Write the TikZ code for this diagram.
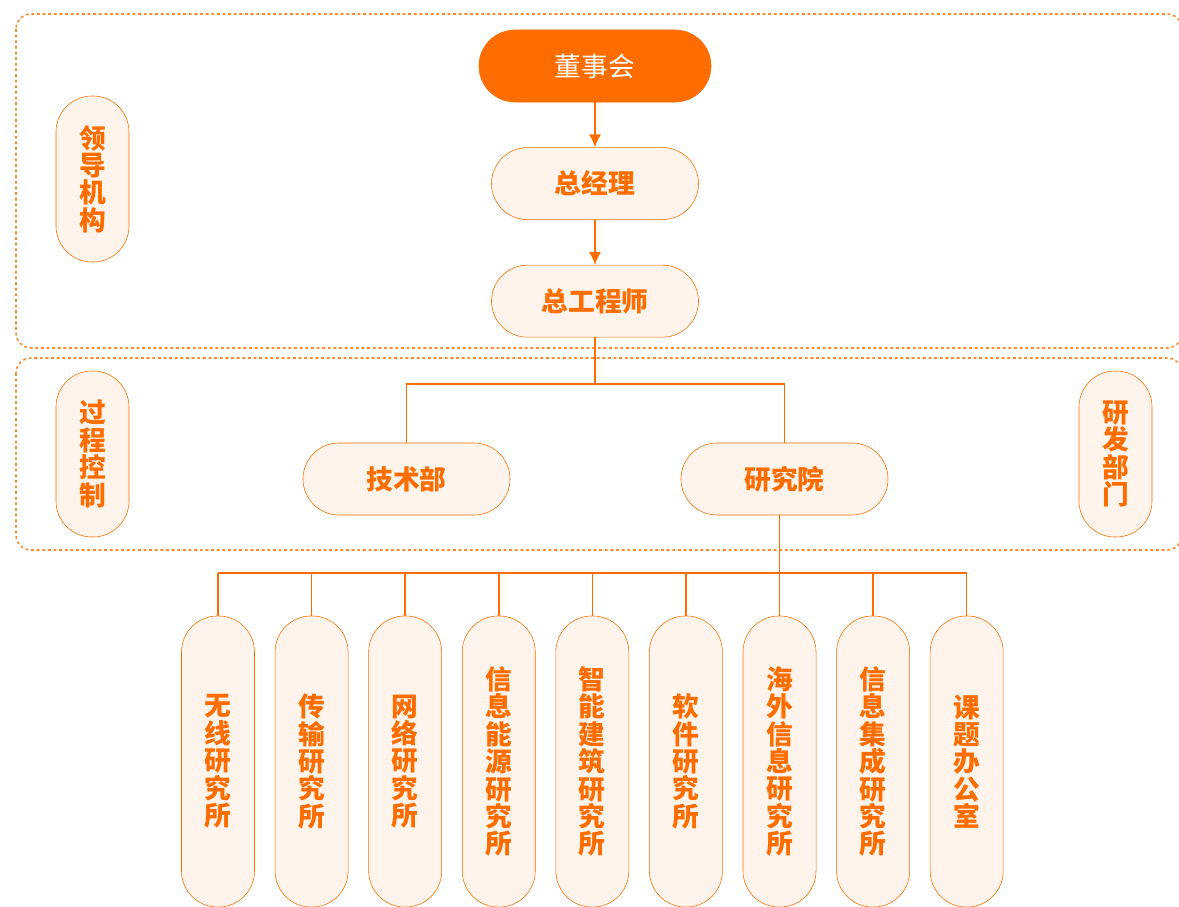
\documentclass[tikz,border=0pt]{standalone}
\usepackage{fontspec}
\setmainfont{Noto Sans CJK SC}
\definecolor{OrgOrange}{HTML}{FF6D00}
\definecolor{OrgFill}{HTML}{FEF4EC}
\definecolor{OrgDash}{HTML}{FF8A2E}
\usetikzlibrary{arrows.meta,positioning}

\begin{document}
\begin{tikzpicture}[x=0.025cm, y=-0.025cm, node distance=1.125cm, >={Latex[length=0.32cm,width=0.3cm]},
    pill/.style={draw=OrgOrange, fill=OrgFill, rectangle, rounded corners=0.9cm, align=center, text=OrgOrange, font=\fontsize{19pt}{19.5pt}\selectfont\bfseries, minimum width=5.175cm, minimum height=1.8cm, inner sep=0pt},
    vpill/.style={pill, minimum width=1.825cm, minimum height=4.15cm},
    unit/.style={pill, minimum width=1.825cm, minimum height=7.275cm},
    group/.style={draw=OrgDash, line width=1.1pt, dash pattern=on 2pt off 2pt, rounded corners=0.375cm},
    link/.style={draw=OrgOrange, line width=1.1pt}]
        \useasboundingbox (0,0) rectangle (1179,907);

        % Dashed groups
        \draw [group] (16,14) rectangle (1182,348);
        \draw [group] (16,358) rectangle (1182,550);

        % Leadership chain
        \node [pill, fill=OrgOrange, text=white, font=\fontsize{19pt}{19.5pt}\selectfont, minimum width=5.8cm] (board) at (595,66) {董事会};
        \node [pill, below=of board] (gm) {总经理};
        \node [pill, below=of gm] (chiefeng) {总工程师};
        \node [pill] (techdept) at (406.5,479) {技术部};
        \node [pill] (institute) at (784.5,479) {研究院};

        % Side labels
        \node [vpill] (leadlbl) at (92.5,179) {领\\导\\机\\构};
        \node [vpill] (proclbl) at (92.5,454) {过\\程\\控\\制};
        \node [vpill] (rdlbl) at (1115.5,454) {研\\发\\部\\门};

        % Research units
        \node [unit] (wireless) at (218,761.5) {无\\线\\研\\究\\所};
        \node [unit, right=0.5cm of wireless] (trans) {传\\输\\研\\究\\所};
        \node [unit, right=0.5cm of trans] (network) {网\\络\\研\\究\\所};
        \node [unit, right=0.5cm of network] (energy) {信\\息\\能\\源\\研\\究\\所};
        \node [unit, right=0.5cm of energy] (building) {智\\能\\建\\筑\\研\\究\\所};
        \node [unit, right=0.5cm of building] (software) {软\\件\\研\\究\\所};
        \node [unit, right=0.5cm of software] (overseas) {海\\外\\信\\息\\研\\究\\所};
        \node [unit, right=0.5cm of overseas] (integ) {信\\息\\集\\成\\研\\究\\所};
        \node [unit, right=0.5cm of integ] (office) {课\\题\\办\\公\\室};

        % Paths
        \coordinate (fork) at (595,384);
        \coordinate (bus) at (0,573);
        \path [link, ->] (board) -- (gm);
        \path [link, ->] (gm) -- (chiefeng);
        \path [link] (chiefeng) -- (fork);
        \path [link] (techdept.north) |- (fork) -| (institute.north);
        \path [link] (overseas.north |- institute.south) -- (overseas.north |- bus);
        \path [link] (wireless.north |- bus) -- (office.north |- bus);
        \foreach \u in {wireless,trans,network,energy,building,software,overseas,integ,office}
            \path [link] (\u.north |- bus) -- (\u.north);
    \end{tikzpicture}
\end{document}
